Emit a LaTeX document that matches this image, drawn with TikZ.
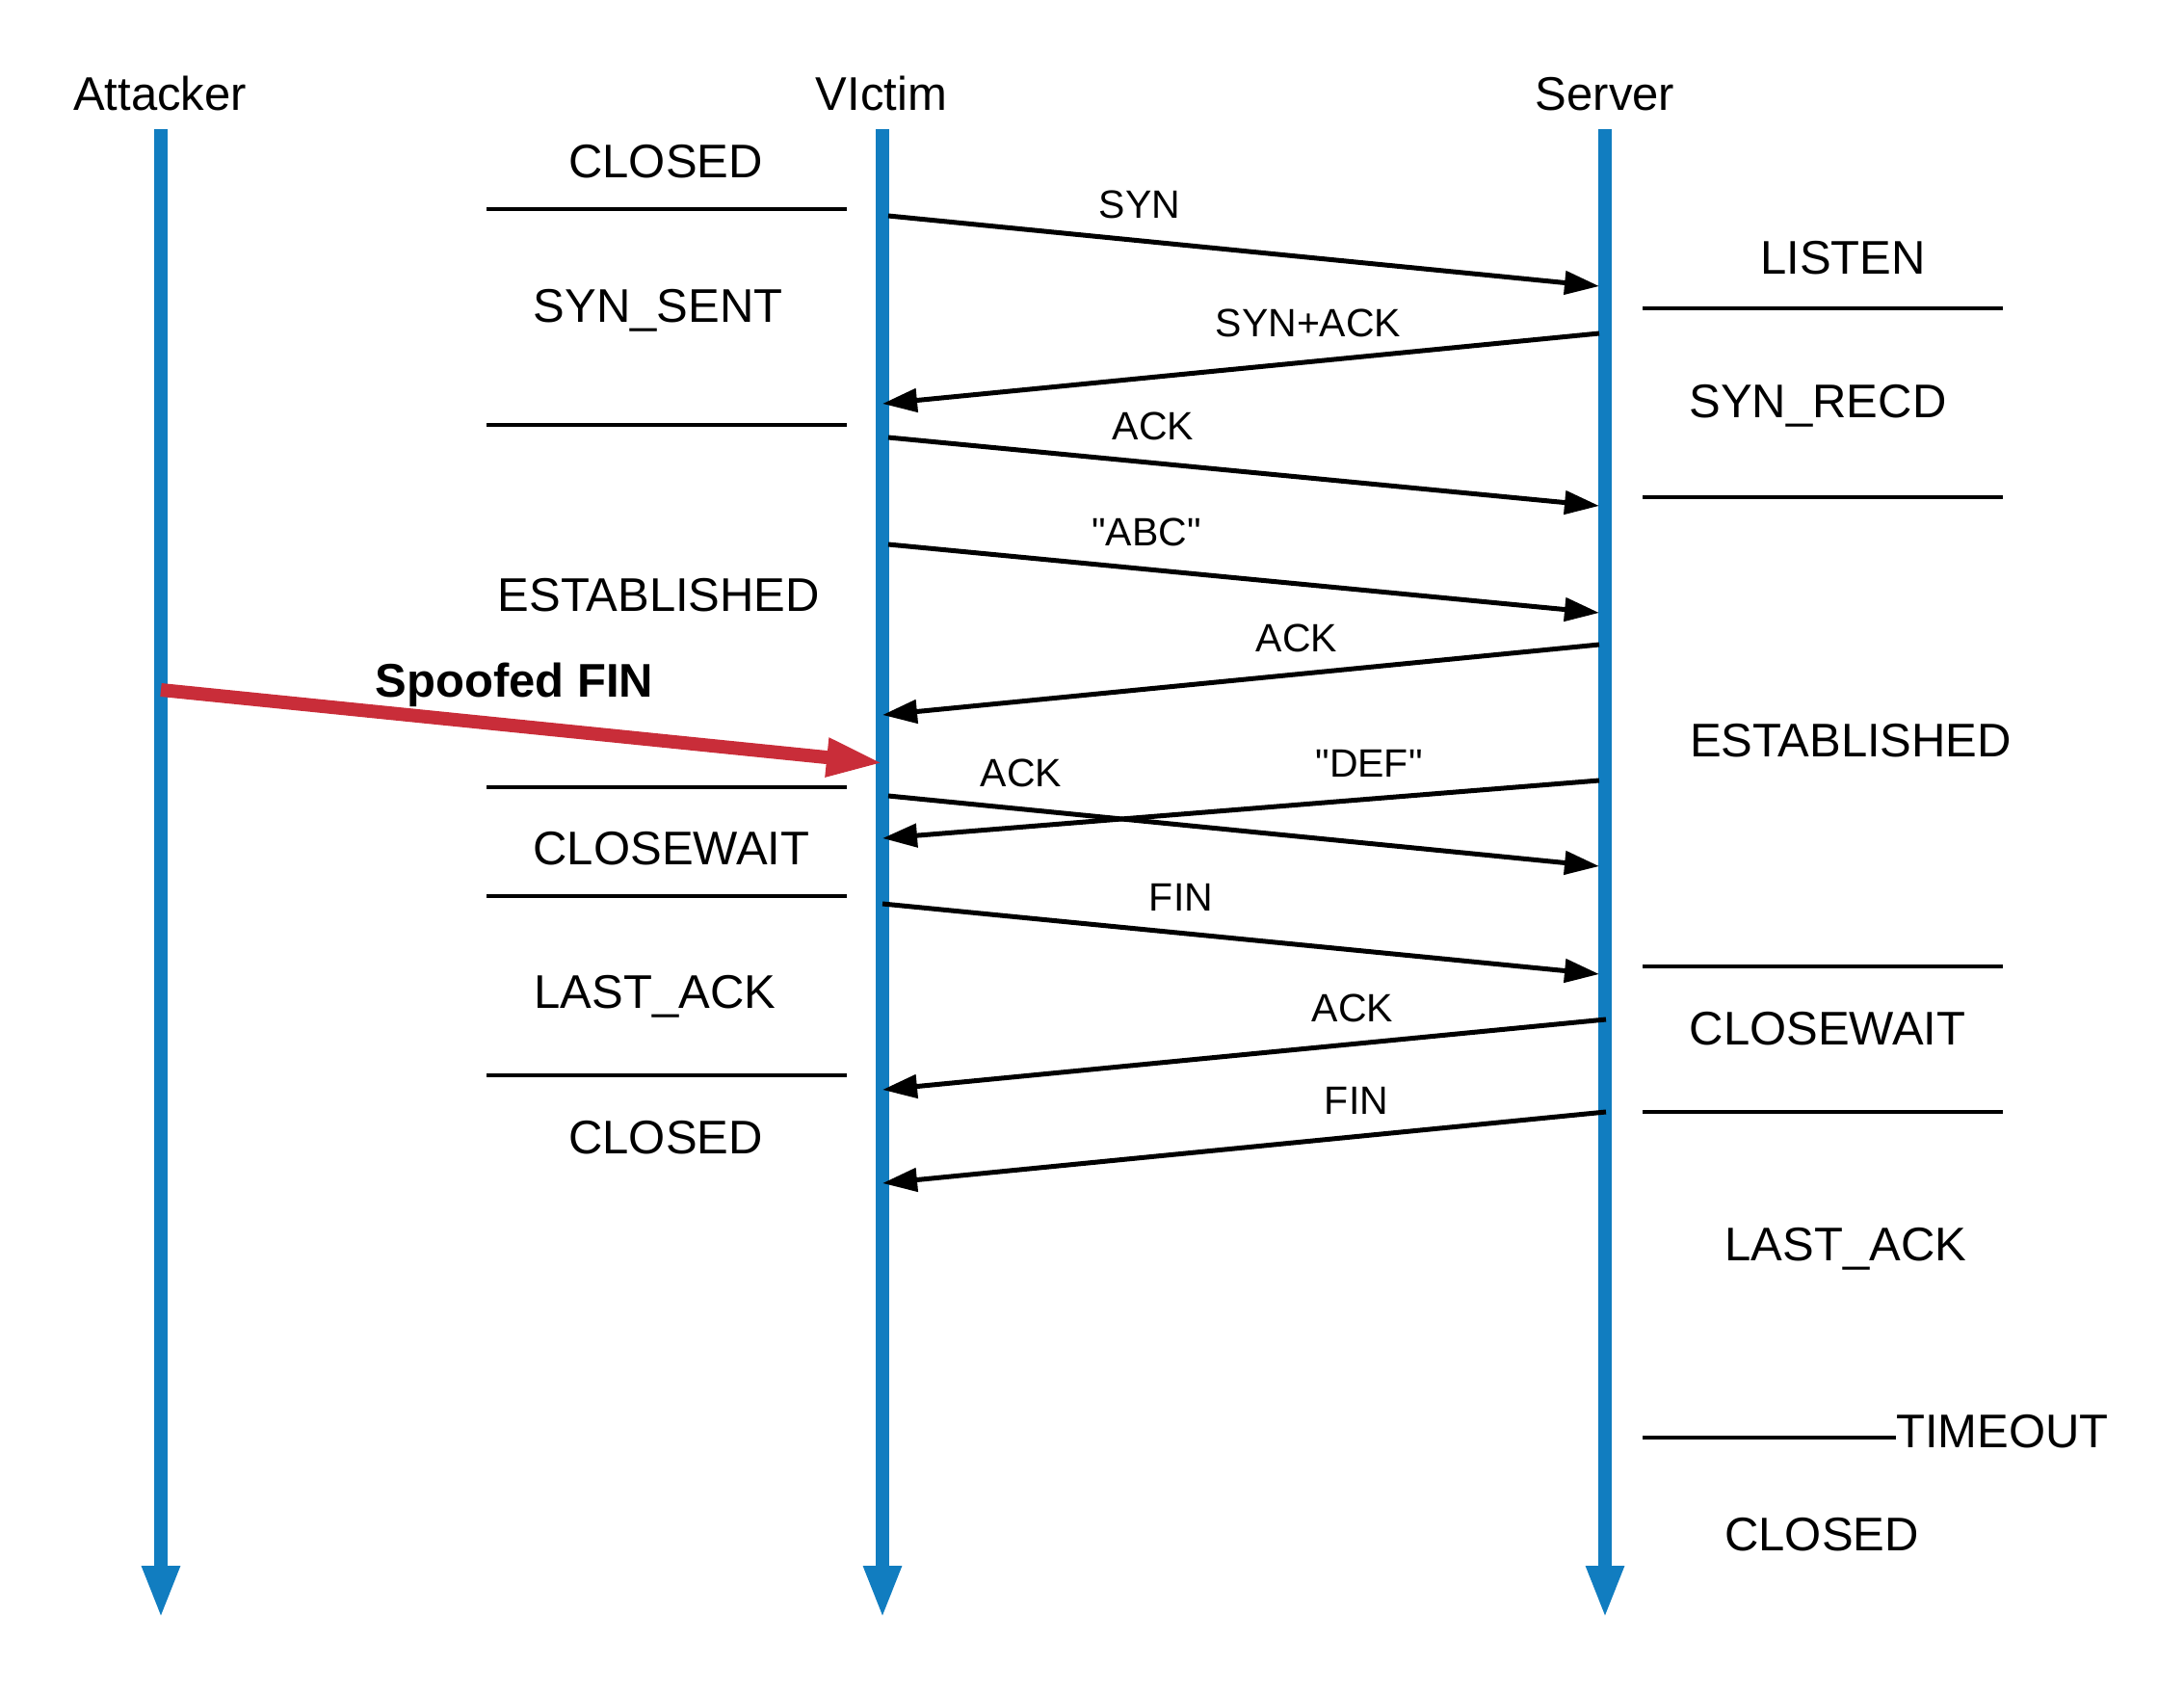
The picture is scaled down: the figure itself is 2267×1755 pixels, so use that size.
\documentclass[tikz,border=0pt]{standalone}
\usepackage{fontspec}
\setmainfont{Liberation Sans}[Ligatures=TeXOff]
\usetikzlibrary{arrows.meta}
\definecolor{lifeblue}{RGB}{17,125,192}
\definecolor{spoofred}{RGB}{201,45,57}
\newcommand\bigtxt{\fontsize{49}{58}\selectfont}
\newcommand\smtxt{\fontsize{41}{49}\selectfont}
\tikzset{
  lifeline/.style={draw=lifeblue, line width=14pt, -{Triangle[length=55pt,width=36pt]}},
  hdr/.style={font=\bigtxt, inner sep=0pt, anchor=base},
  statelbl/.style={font=\bigtxt, inner sep=0pt, anchor=base},
  msglbl/.style={font=\smtxt, inner sep=0pt, anchor=base},
  statesep/.style={line width=4pt},
  msgarrow/.style={line width=5pt, -{Triangle[length=36pt,width=24pt]}},
  spoofarrow/.style={draw=spoofred, line width=14pt, -{Triangle[length=59pt,width=37pt]}}
}
\begin{document}
\begin{tikzpicture}[x=1pt,y=-1pt]
\useasboundingbox (0,0) rectangle (2267,1755);
% headers
\node[hdr] (hA) at (166,115) {Attacker};
\node[hdr] (hV) at (915,115) {VIctim};
\node[hdr] (hS) at (1666,115) {Server};
% lifelines
\coordinate (aTop) at (167,134); \coordinate (aBot) at (167,1680);
\coordinate (vTop) at (916,134); \coordinate (vBot) at (916,1680);
\coordinate (sTop) at (1666,134); \coordinate (sBot) at (1666,1680);
\draw[lifeline] (aTop) -- (aBot);
\draw[lifeline] (vTop) -- (vBot);
\draw[lifeline] (sTop) -- (sBot);
% victim states
\node[statelbl] (vs1) at (691,185) {CLOSED};
\node[statelbl] (vs2) at (683,334) {SYN\_SENT};
\node[statelbl] (vs3) at (684,634) {ESTABLISHED};
\node[statelbl] (vs4) at (697,897) {CLOSEWAIT};
\node[statelbl] (vs5) at (680,1046) {LAST\_ACK};
\node[statelbl] (vs6) at (691,1197) {CLOSED};
\coordinate (vl1a) at (505,217); \coordinate (vl1b) at (879,217);
\coordinate (vl2a) at (505,441); \coordinate (vl2b) at (879,441);
\coordinate (vl3a) at (505,817); \coordinate (vl3b) at (879,817);
\coordinate (vl4a) at (505,930); \coordinate (vl4b) at (879,930);
\coordinate (vl5a) at (505,1116); \coordinate (vl5b) at (879,1116);
\draw[statesep] (vl1a) -- (vl1b);
\draw[statesep] (vl2a) -- (vl2b);
\draw[statesep] (vl3a) -- (vl3b);
\draw[statesep] (vl4a) -- (vl4b);
\draw[statesep] (vl5a) -- (vl5b);
% server states
\node[statelbl] (ss1) at (1913,284) {LISTEN};
\node[statelbl] (ss2) at (1887,433) {SYN\_RECD};
\node[statelbl] (ss3) at (1921,785) {ESTABLISHED};
\node[statelbl] (ss4) at (1897,1084) {CLOSEWAIT};
\node[statelbl] (ss5) at (1916,1308) {LAST\_ACK};
\node[statelbl, anchor=base west] (ss6) at (1968,1502) {TIMEOUT};
\node[statelbl] (ss7) at (1891,1609) {CLOSED};
\coordinate (sl1a) at (1705,320); \coordinate (sl1b) at (2079,320);
\coordinate (sl2a) at (1705,516); \coordinate (sl2b) at (2079,516);
\coordinate (sl3a) at (1705,1003); \coordinate (sl3b) at (2079,1003);
\coordinate (sl4a) at (1705,1154); \coordinate (sl4b) at (2079,1154);
\coordinate (sl5a) at (1705,1492);
\draw[statesep] (sl1a) -- (sl1b);
\draw[statesep] (sl2a) -- (sl2b);
\draw[statesep] (sl3a) -- (sl3b);
\draw[statesep] (sl4a) -- (sl4b);
\draw[statesep] (sl5a) -- (ss6.west |- sl5a);
% message endpoints
\coordinate (m1a) at (922,224);  \coordinate (m1b) at (1660,297);
\coordinate (m2a) at (1660,346); \coordinate (m2b) at (916,419);
\coordinate (m3a) at (922,454);  \coordinate (m3b) at (1660,525);
\coordinate (m4a) at (922,565);  \coordinate (m4b) at (1660,636);
\coordinate (m5a) at (1660,669); \coordinate (m5b) at (916,742);
\coordinate (m7a) at (922,826);  \coordinate (m7b) at (1660,899);
\coordinate (m8a) at (1660,810); \coordinate (m8b) at (916,870);
\coordinate (m9a) at (916,938);  \coordinate (m9b) at (1660,1011);
\coordinate (m10a) at (1667,1058); \coordinate (m10b) at (916,1131);
\coordinate (m11a) at (1667,1154); \coordinate (m11b) at (916,1228);
\coordinate (spA) at (167,716); \coordinate (spB) at (917,792);
% messages
\draw[msgarrow] (m1a) -- (m1b);
\draw[msgarrow] (m2a) -- (m2b);
\draw[msgarrow] (m3a) -- (m3b);
\draw[msgarrow] (m4a) -- (m4b);
\draw[msgarrow] (m5a) -- (m5b);
\draw[msgarrow] (m7a) -- (m7b);
\draw[msgarrow] (m8a) -- (m8b);
\draw[msgarrow] (m9a) -- (m9b);
\draw[msgarrow] (m10a) -- (m10b);
\draw[msgarrow] (m11a) -- (m11b);
\draw[spoofarrow] (spA) -- (spB);
% message labels
\node[msglbl] (l1) at (1183,226) {SYN};
\node[msglbl] (l2) at (1358,349) {SYN+ACK};
\node[msglbl] (l3) at (1197,456) {ACK};
\node[msglbl] (l4) at (1190,566) {"ABC"};
\node[msglbl] (l5) at (1346,676) {ACK};
\node[msglbl] (l7) at (1060,816) {ACK};
\node[msglbl] (l8) at (1421,806) {"DEF"};
\node[msglbl] (l9) at (1226,945) {FIN};
\node[msglbl] (l10) at (1404,1060) {ACK};
\node[msglbl] (l11) at (1408,1156) {FIN};
\node[hdr, font=\bigtxt\bfseries] (lsp) at (534,723) {Spoofed FIN};
\end{tikzpicture}
\end{document}
